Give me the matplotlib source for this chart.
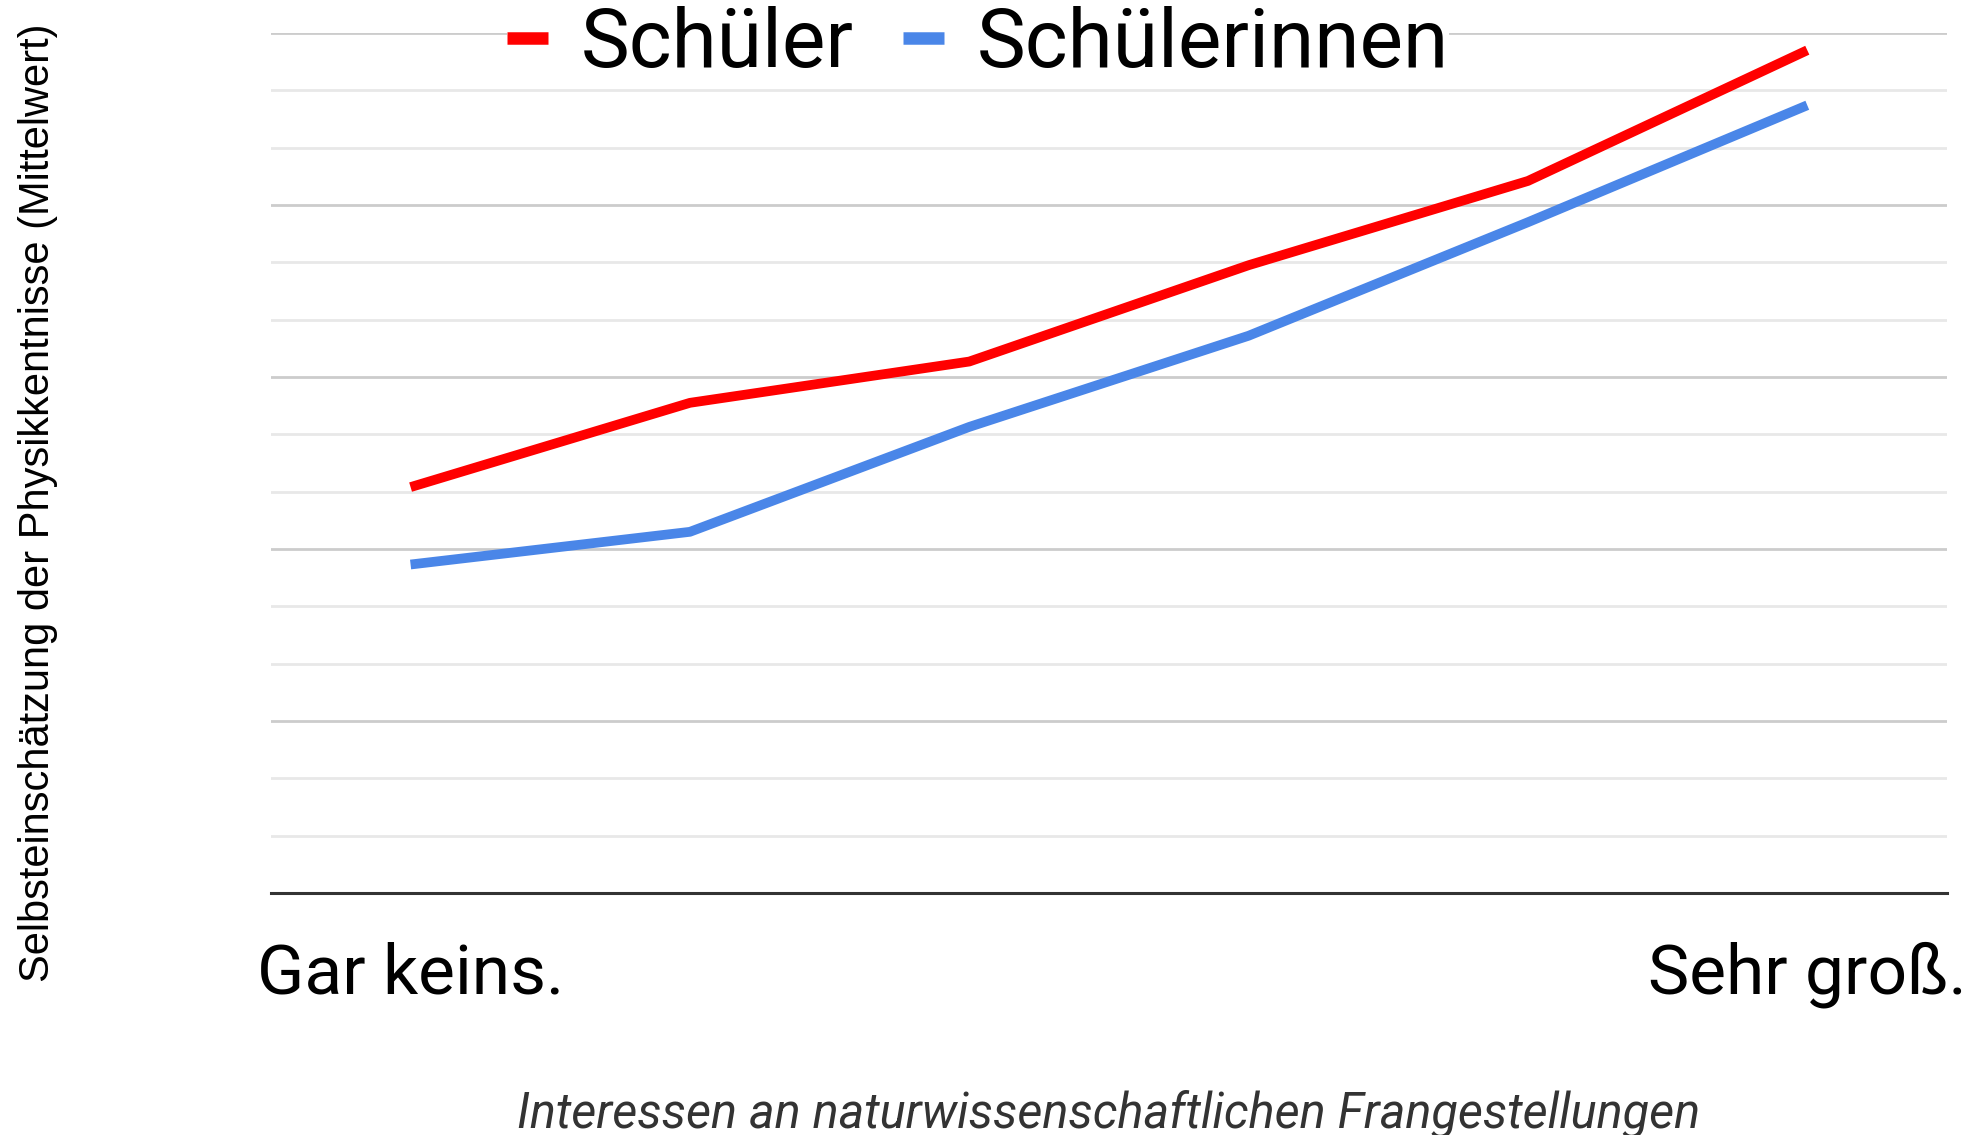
import matplotlib
matplotlib.use("Agg")
import matplotlib.pyplot as plt
from matplotlib.ticker import MultipleLocator

# interest level (6 steps, only the ends are labelled)
levels = ["Gar keins.", "", "", "", "", "Sehr groß."]
schueler = [2.36, 2.85, 3.09, 3.65, 4.14, 4.90]
schuelerinnen = [1.91, 2.10, 2.71, 3.24, 3.90, 4.58]

RED = "#ff0000"
BLUE = "#4a86e8"

fig = plt.figure(figsize=(19.76, 11.35), dpi=100)
ax = fig.add_axes([0.1371, 0.2132, 0.8482, 0.7577])

x = range(len(levels))
ax.plot(x, schueler, color=RED, lw=7, label="Schüler", solid_capstyle="butt", zorder=3)
ax.plot(x, schuelerinnen, color=BLUE, lw=7, label="Schülerinnen", solid_capstyle="butt", zorder=3)

ax.set_xlim(-0.5, len(levels) - 0.5)
ax.set_ylim(0, 5)
ax.yaxis.set_major_locator(MultipleLocator(1))
ax.yaxis.set_minor_locator(MultipleLocator(1 / 3))
ax.grid(axis="y", which="major", color="#cccccc", lw=2)
ax.grid(axis="y", which="minor", color="#e8e8e8", lw=2)
ax.set_axisbelow(True)
ax.tick_params(axis="y", which="both", left=False, labelleft=False)

ax.set_xticks([0, len(levels) - 1])
ax.set_xticklabels([levels[0], levels[-1]], family="Roboto", fontsize=50)
ax.tick_params(axis="x", length=0, pad=35)

for s in ["top", "right", "left"]:
    ax.spines[s].set_visible(False)
ax.spines["bottom"].set_color("#333333")
ax.spines["bottom"].set_linewidth(2.2)

leg = ax.legend(loc="center", bbox_to_anchor=(978 / 1976, 1 - 45 / 1135),
                bbox_transform=fig.transFigure, ncol=2, frameon=True,
                prop={"family": "Roboto", "size": 59}, handlelength=0.5,
                handletextpad=0.4, columnspacing=0.6, borderpad=0.0)
leg.get_frame().set_facecolor("white")
leg.get_frame().set_edgecolor("none")
leg.get_frame().set_alpha(1)
for h in leg.get_lines():
    h.set_linewidth(9)

fig.text(0.0192, 0.557, "Selbsteinschätzung der Physikkentnisse (Mittelwert)",
         rotation=90, ha="center", va="center", family="Liberation Sans", fontsize=30)
fig.text(0.561, 0.019, "Interessen an naturwissenschaftlichen Frangestellungen",
         ha="center", va="center", family="Roboto", style="italic", fontsize=35,
         color="#333333")

fig.savefig("out.png", dpi=100)
